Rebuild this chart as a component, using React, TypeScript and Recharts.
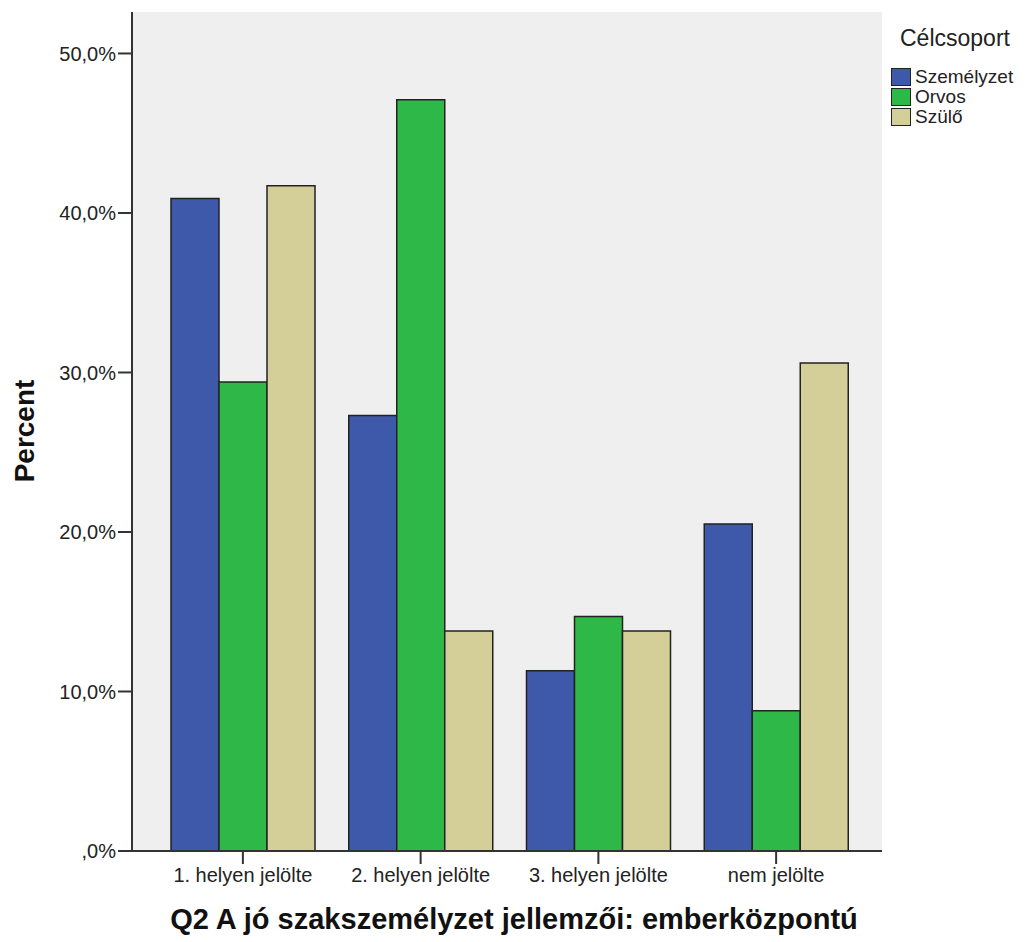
import { Bar, BarChart, CartesianGrid, XAxis, YAxis } from "recharts";

const categories = ["1. helyen jelölte", "2. helyen jelölte", "3. helyen jelölte", "nem jelölte"];
const szemelyzet = [40.9, 27.3, 11.3, 20.5];
const orvos = [29.4, 47.1, 14.7, 8.8];
const szulo = [41.7, 13.8, 13.8, 30.6];
const yTicks = [0, 10, 20, 30, 40, 50];

const seriesNames = ["Személyzet", "Orvos", "Szülő"];
const colors = ["#3e58aa", "#2eb848", "#d4ce98"];

const data = categories.map((name, i) => ({
  name,
  szemelyzet: szemelyzet[i],
  orvos: orvos[i],
  szulo: szulo[i],
}));

const WIDTH = 1029;
const HEIGHT = 942;
const SANS = "'Liberation Sans', Arial, sans-serif";

const fmtPct = (v: number) => {
  const s = v.toFixed(1).replace(".", ",");
  return (s.startsWith("0") ? s.slice(1) : s) + "%";
};

function LegendBox() {
  return (
    <div style={{ position: "absolute", left: 891, top: 24, fontFamily: SANS, color: "#222" }}>
      <div style={{ fontSize: 23, marginLeft: 9, lineHeight: "28px" }}>Célcsoport</div>
      <div style={{ marginTop: 15 }}>
        {seriesNames.map((n, i) => (
          <div key={n} style={{ display: "flex", alignItems: "center", height: 20 }}>
            <div
              style={{
                width: 18,
                height: 16,
                background: colors[i],
                border: "1.5px solid #222",
                marginRight: 4,
                flexShrink: 0,
              }}
            />
            <span style={{ fontSize: 19, lineHeight: "20px", whiteSpace: "nowrap" }}>{n}</span>
          </div>
        ))}
      </div>
    </div>
  );
}

export default function App() {
  return (
    <div style={{ position: "absolute", left: 0, top: 0, width: WIDTH, height: HEIGHT, background: "#fff" }}>
      <BarChart
        width={WIDTH}
        height={HEIGHT}
        data={data}
        margin={{ top: 12, right: 147, left: 8, bottom: 41 }}
        barGap={0}
        barSize={48}
      >
        <CartesianGrid fill="#efefef" horizontal={false} vertical={false} stroke="none" />
        <XAxis
          dataKey="name"
          height={50}
          padding={{ left: 22, right: 17 }}
          tickSize={13}
          tickMargin={4}
          tickLine={{ stroke: "#333", strokeWidth: 2 }}
          axisLine={{ stroke: "#333", strokeWidth: 2 }}
          tick={{ fill: "#222", fontSize: 20, fontFamily: SANS }}
        />
        <XAxis
          xAxisId="top"
          orientation="top"
          dataKey="name"
          height={0}
          tick={false}
          tickLine={false}
          axisLine={{ stroke: "#777", strokeWidth: 2 }}
        />
        <YAxis
          width={124}
          domain={[0, 52.6]}
          ticks={yTicks}
          tickSize={14}
          tickMargin={2}
          tickFormatter={fmtPct}
          tickLine={{ stroke: "#333", strokeWidth: 2 }}
          axisLine={{ stroke: "#333", strokeWidth: 2 }}
          tick={{ fill: "#222", fontSize: 20, fontFamily: SANS }}
        />
        <YAxis
          yAxisId="right"
          orientation="right"
          width={0}
          domain={[0, 1]}
          tick={false}
          tickLine={false}
          axisLine={{ stroke: "#555", strokeWidth: 2 }}
        />
        <Bar dataKey="szemelyzet" name={seriesNames[0]} fill={colors[0]} stroke="#222" strokeWidth={1.5} isAnimationActive={false} />
        <Bar dataKey="orvos" name={seriesNames[1]} fill={colors[1]} stroke="#222" strokeWidth={1.5} isAnimationActive={false} />
        <Bar dataKey="szulo" name={seriesNames[2]} fill={colors[2]} stroke="#222" strokeWidth={1.5} isAnimationActive={false} />
      </BarChart>
      <div
        style={{
          position: "absolute",
          left: 25,
          top: 431,
          transform: "translate(-50%, -50%) rotate(-90deg)",
          fontFamily: SANS,
          fontWeight: 700,
          fontSize: 28,
          color: "#111",
          whiteSpace: "nowrap",
        }}
      >
        Percent
      </div>
      <div
        style={{
          position: "absolute",
          left: 514,
          top: 919,
          transform: "translate(-50%, -50%)",
          fontFamily: SANS,
          fontWeight: 700,
          fontSize: 29,
          color: "#111",
          whiteSpace: "nowrap",
        }}
      >
        Q2 A jó szakszemélyzet jellemzői: emberközpontú
      </div>
      <LegendBox />
    </div>
  );
}
